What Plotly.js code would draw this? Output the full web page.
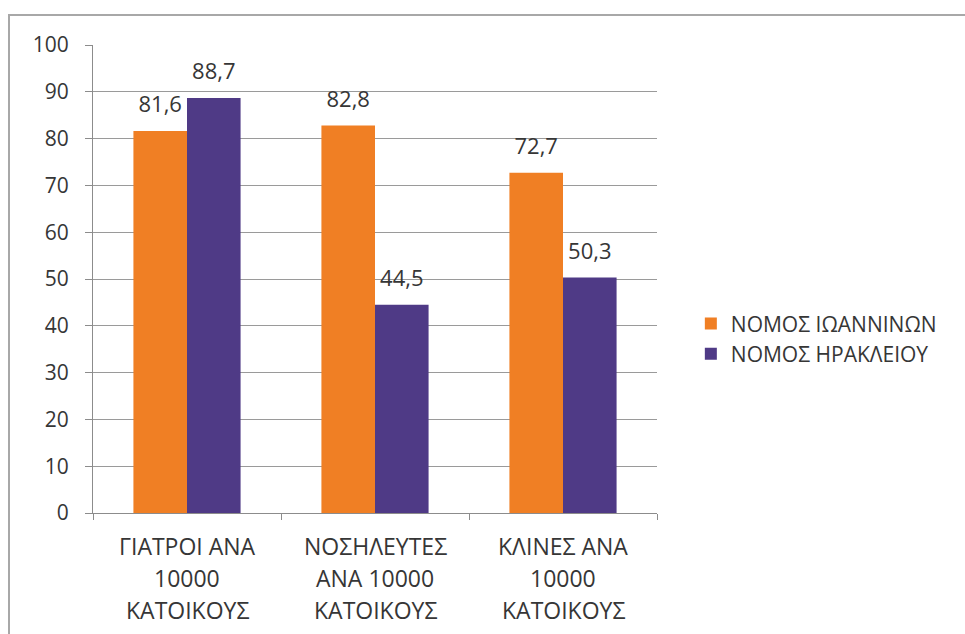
<!DOCTYPE html>
<html>
<head>
<meta charset="utf-8">
<script src="https://cdn.plot.ly/plotly-3.0.1.min.js"></script>
<style>
  html, body { margin: 0; padding: 0; background: #ffffff; }
  #frame {
    position: absolute; left: 8px; top: 14px; width: 957px; height: 620px;
    border-left: 2px solid #a8a8a8; border-top: 2px solid #a8a8a8;
  }
  #chart { position: absolute; left: 0; top: 0; width: 965px; height: 634px; }
</style>
</head>
<body>
<div id="frame"></div>
<div id="chart"></div>
<script>
// Category labels, one entry per line of each label
const categories = ['ΓΙΑΤΡΟΙ', 'ΝΟΣΗΛΕΥΤΕΣ', 'ΚΛΙΝΕΣ'];
const categoryLines = [
  ['ΓΙΑΤΡΟΙ ΑΝΑ', '10000', 'ΚΑΤΟΙΚΟΥΣ'],
  ['ΝΟΣΗΛΕΥΤΕΣ', 'ΑΝΑ 10000', 'ΚΑΤΟΙΚΟΥΣ'],
  ['ΚΛΙΝΕΣ ΑΝΑ', '10000', 'ΚΑΤΟΙΚΟΥΣ']
];
const ioanninaName = 'ΝΟΜΟΣ ΙΩΑΝΝΙΝΩΝ';
const heraklionName = 'ΝΟΜΟΣ ΗΡΑΚΛΕΙΟΥ';
const ioanninaValues = [81.6, 82.8, 72.7];
const heraklionValues = [88.7, 44.5, 50.3];
const yTicks = [0, 10, 20, 30, 40, 50, 60, 70, 80, 90, 100];

const FONT = '"Open Sans", "DejaVu Sans", sans-serif';
const TEXT = '#363636';
const ORANGE = '#f07f24';
const PURPLE = '#4f3a86';
const GAP = 0.43;

// Bars
const bars = [
  { name: ioanninaName, values: ioanninaValues, color: ORANGE },
  { name: heraklionName, values: heraklionValues, color: PURPLE }
].map(s => ({
  type: 'bar', name: s.name, x: categories, y: s.values,
  marker: { color: s.color }
}));

// Value labels floating above each bar (invisible markers give the gap)
const labels = [ioanninaValues, heraklionValues].map(vals => ({
  type: 'scatter', mode: 'markers+text', x: categories, y: vals,
  marker: { size: 20, opacity: 0 },
  text: vals, texttemplate: '%{y:.1f}', textposition: 'top center',
  textfont: { family: FONT, size: 22, color: TEXT },
  showlegend: false, cliponaxis: false, hoverinfo: 'skip'
}));

// Multi-line category labels drawn under the axis
const annotations = [];
categoryLines.forEach((lines, i) => {
  lines.forEach((line, j) => {
    annotations.push({
      x: categories[i], xref: 'x', y: 0, yref: 'paper', yanchor: 'middle',
      yshift: -33 - j * 32, text: line, showarrow: false,
      font: { family: FONT, size: 23, color: TEXT }
    });
  });
});

const layout = {
  width: 965, height: 634,
  margin: { l: 93, r: 308, t: 45, b: 121 },
  paper_bgcolor: 'rgba(0,0,0,0)', plot_bgcolor: 'rgba(0,0,0,0)',
  separators: ',.',
  font: { family: FONT, color: TEXT },
  barmode: 'group', bargap: GAP, bargroupgap: 0,
  scattermode: 'group', scattergap: GAP,
  xaxis: {
    type: 'category', showticklabels: false,
    showline: true, linecolor: '#8c8c8c', linewidth: 1,
    ticks: 'outside', tickson: 'boundaries', ticklen: 6, tickcolor: '#8c8c8c',
    showgrid: false
  },
  yaxis: {
    range: [0, 100], tickvals: yTicks, ticktext: yTicks.map(String),
    showline: true, linecolor: '#8c8c8c', linewidth: 1,
    ticks: 'outside', ticklen: 7, tickcolor: '#8c8c8c',
    showgrid: true, gridcolor: '#9a9a9a', gridwidth: 1,
    zeroline: false, ticklabelstandoff: 12,
    tickfont: { family: FONT, size: 21, color: TEXT }
  },
  showlegend: true,
  legend: {
    x: 1.06, xanchor: 'left', y: 0.372, yanchor: 'middle',
    font: { family: FONT, size: 21, color: TEXT },
    itemwidth: 30, bgcolor: 'rgba(0,0,0,0)'
  },
  annotations: annotations
};

Plotly.newPlot('chart', bars.concat(labels), layout, { displayModeBar: false, staticPlot: true });
</script>
</body>
</html>
